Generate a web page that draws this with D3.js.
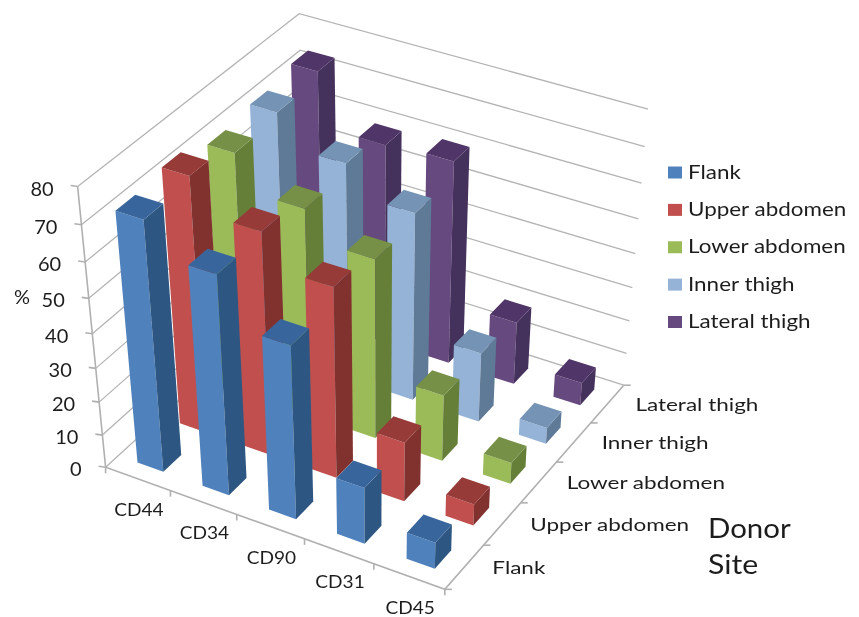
<!DOCTYPE html>
<html>
<head>
<meta charset="utf-8">
<title>Surface markers by donor site</title>
<script src="https://cdn.jsdelivr.net/npm/d3@7"></script>
<style>
  html, body { margin: 0; background: #fff; }
  text { font-family: Lato, "Open Sans", sans-serif; fill: #1f1f1f; }
</style>
</head>
<body>
<div id="chart"></div>
<script>
const markers = ['CD44', 'CD34', 'CD90', 'CD31', 'CD45'];
const sites = ['Flank', 'Upper abdomen', 'Lower abdomen', 'Inner thigh', 'Lateral thigh'];
const valueTicks = [0, 10, 20, 30, 40, 50, 60, 70, 80];

// one row per donor site, same order as markers
const flank = [72.5, 64, 51, 17, 8];
const upperAbdomen = [74, 65, 56, 18, 6.5];
const lowerAbdomen = [70.5, 61, 53, 20, 6.5];
const innerThigh = [72, 63.5, 55.5, 21, 5];
const lateralThigh = [74, 59, 60, 19, 7];
const seriesValues = [flank, upperAbdomen, lowerAbdomen, innerThigh, lateralThigh];

// front, side and top shade of each series
const frontColors = ['#4f81bd', '#c0504d', '#9bbb59', '#95b3d7', '#66497f'];
const sideColors = ['#2f5783', '#82302e', '#657f37', '#5f7a96', '#45305c'];
const topColors = ['#38669c', '#963a38', '#769146', '#7594b5', '#4f3468'];

const width = 859;
const height = 617;

// Camera: maps [marker, site, height] to the screen, fitted to where the box sits in the picture
const anchors = [
  [0, 0, 0, 107, 466], [1, 0, 0, 171, 492], [2, 0, 0, 237, 516], [3, 0, 0, 304, 540],
  [4, 0, 0, 373, 565], [5, 0, 0, 445, 587], [5, 1, 0, 483, 545], [5, 2, 0, 521, 503],
  [5, 3, 0, 557, 462], [5, 4, 0, 592, 423], [5, 5, 0, 623, 385], [0, 0, 1, 101, 434],
  [0, 0, 4, 92, 333], [0, 0, 8, 78, 187], [5, 5, 4, 634, 254], [5, 5, 8, 649, 109],
  [0, 5, 8, 299, 14], [0, 5, 7, 300, 50],
];

function fitCamera(points) {
  const n = 11;
  const ata = d3.range(n).map(() => new Array(n + 1).fill(0));
  const addRow = (row, rhs) => {
    row.forEach((a, i) => {
      row.forEach((b, j) => (ata[i][j] += a * b));
      ata[i][n] += a * rhs;
    });
  };
  points.forEach(([x, z, y, u, v]) => {
    const su = u / 100;
    const sv = v / 100;
    addRow([x, z, y, 1, 0, 0, 0, 0, -su * x, -su * z, -su * y], su);
    addRow([0, 0, 0, 0, x, z, y, 1, -sv * x, -sv * z, -sv * y], sv);
  });
  for (let c = 0; c < n; c++) {
    let best = c;
    for (let r = c + 1; r < n; r++) if (Math.abs(ata[r][c]) > Math.abs(ata[best][c])) best = r;
    [ata[c], ata[best]] = [ata[best], ata[c]];
    for (let r = 0; r < n; r++) {
      if (r === c) continue;
      const f = ata[r][c] / ata[c][c];
      for (let k = c; k <= n; k++) ata[r][k] -= f * ata[c][k];
    }
  }
  return ata.map((row, i) => row[n] / row[i]);
}

const cam = fitCamera(anchors);
const project = (x, z, y) => {
  const w = cam[8] * x + cam[9] * z + cam[10] * y + 1;
  return [
    (100 * (cam[0] * x + cam[1] * z + cam[2] * y + cam[3])) / w,
    (100 * (cam[4] * x + cam[5] * z + cam[6] * y + cam[7])) / w,
  ];
};

const xBand = d3.scaleBand().domain(markers).range([0, 5]).paddingInner(0.6).paddingOuter(0.3);
const zBand = d3.scaleBand().domain(sites).range([0, 5]).paddingInner(0.58).paddingOuter(0.29);
const yScale = d3.scaleLinear().domain([0, 80]).range([0, 8]);

const svg = d3.select('#chart').append('svg').attr('width', width).attr('height', height);
svg.append('defs').append('filter').attr('id', 'soft').append('feGaussianBlur').attr('stdDeviation', 0.5);

const root = svg.append('g').attr('filter', 'url(#soft)');
const line = d3.line();
const poly = (pts) => line(pts) + 'Z';

// Walls: grid lines only, no fill
const grid = root.append('g').attr('fill', 'none').attr('stroke', '#b4b4b4').attr('stroke-width', 1.3);
valueTicks.forEach((v) => {
  const y = yScale(v);
  grid.append('path').attr('d', line([project(0, 0, y), project(0, 5, y), project(5, 5, y)]));
});

// Axis lines and ticks
const axes = root.append('g').attr('fill', 'none').attr('stroke', '#b0b0b0').attr('stroke-width', 1.6);
axes.append('path').attr('d', line([project(0, 0, yScale(80)), project(0, 0, 0), project(5, 0, 0), project(5, 5, 0)]));
valueTicks.forEach((v) => {
  const [px, py] = project(0, 0, yScale(v));
  axes.append('path').attr('d', line([[px - 7, py - 1], [px, py]]));
});
d3.range(6).forEach((i) => {
  const [px, py] = project(i, 0, 0);
  axes.append('path').attr('d', line([[px, py], [px, py + 6]]));
  const [qx, qy] = project(5, i, 0);
  axes.append('path').attr('d', line([[qx, qy], [qx + 7, qy]]));
});

// Bars, painted far to near
const bars = [];
sites.forEach((site, s) => {
  markers.forEach((marker, m) => {
    bars.push({ m, s, marker, site, value: seriesValues[s][m] });
  });
});
bars.sort((a, b) => b.s - a.s || a.m - b.m);

const barGroups = root.append('g').selectAll('g').data(bars).join('g');
const corners = (d) => {
  const x0 = xBand(d.marker);
  const x1 = x0 + xBand.bandwidth();
  const z0 = zBand(d.site);
  const z1 = z0 + zBand.bandwidth();
  return { x0, x1, z0, z1, h: yScale(d.value) };
};
barGroups.append('path')
  .attr('fill', (d) => frontColors[d.s])
  .attr('d', (d) => {
    const c = corners(d);
    return poly([project(c.x0, c.z0, 0), project(c.x1, c.z0, 0), project(c.x1, c.z0, c.h), project(c.x0, c.z0, c.h)]);
  });
barGroups.append('path')
  .attr('fill', (d) => sideColors[d.s])
  .attr('d', (d) => {
    const c = corners(d);
    return poly([project(c.x1, c.z0, 0), project(c.x1, c.z1, 0), project(c.x1, c.z1, c.h), project(c.x1, c.z0, c.h)]);
  });
barGroups.append('path')
  .attr('fill', (d) => topColors[d.s])
  .attr('d', (d) => {
    const c = corners(d);
    return poly([project(c.x0, c.z0, c.h), project(c.x1, c.z0, c.h), project(c.x1, c.z1, c.h), project(c.x0, c.z1, c.h)]);
  });

// The source text is stretched sideways, so widen each label by a factor
const widen = (sel, factor) => sel
  .attr('lengthAdjust', 'spacingAndGlyphs')
  .attr('textLength', function () { return this.getComputedTextLength() * factor; });

// Value labels
const labels = svg.append('g').attr('filter', 'url(#soft)');
valueTicks.forEach((v) => {
  const [px, py] = project(0, 0, yScale(v));
  labels.append('text').attr('x', px - 24).attr('y', py + 9).attr('text-anchor', 'end').attr('font-size', 20).text(v);
});
labels.append('text').attr('x', 14).attr('y', 304).attr('font-size', 20).text('%');

// Marker labels sit under the middle of each band
markers.forEach((marker, i) => {
  const [px, py] = project(i + 0.5, 0, 0);
  labels.append('text').attr('x', px + 1).attr('y', py + 37).attr('text-anchor', 'middle').attr('font-size', 18)
    .text(marker).call(widen, 1.06);
});

// Site labels hang off the right floor edge
sites.forEach((site, i) => {
  const [px, py] = project(5, i + 0.5, 0);
  labels.append('text').attr('x', px + 28).attr('y', py + 7).attr('font-size', 18)
    .text(site).call(widen, 1.25);
});

// Legend
const legendY = d3.scalePoint().domain(sites).range([172.5, 322]);
const legend = svg.append('g').attr('filter', 'url(#soft)').selectAll('g').data(sites).join('g')
  .attr('transform', (d) => `translate(668,${legendY(d)})`);
legend.append('rect').attr('y', -6).attr('width', 14).attr('height', 12).attr('fill', (d, i) => frontColors[i]);
legend.append('text').attr('x', 20).attr('y', 6).attr('font-size', 19)
  .text((d) => d).call(widen, 1.18);

labels.append('text').attr('x', 708).attr('y', 538).attr('font-size', 27).text('Donor').call(widen, 1.09);
labels.append('text').attr('x', 708).attr('y', 574).attr('font-size', 27).text('Site').call(widen, 1.12);
</script>
</body>
</html>
